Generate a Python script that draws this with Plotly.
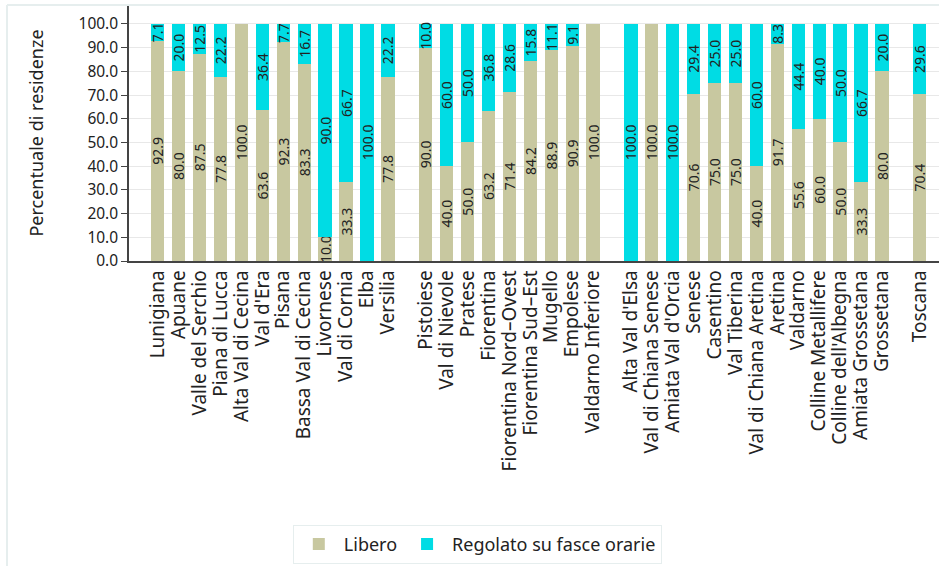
import plotly.graph_objects as go

groups = [
    ["Lunigiana", "Apuane", "Valle del Serchio", "Piana di Lucca", "Alta Val di Cecina",
     "Val d'Era", "Pisana", "Bassa Val di Cecina", "Livornese", "Val di Cornia", "Elba", "Versilia"],
    ["Pistoiese", "Val di Nievole", "Pratese", "Fiorentina", "Fiorentina Nord–Ovest",
     "Fiorentina Sud–Est", "Mugello", "Empolese", "Valdarno Inferiore"],
    ["Alta Val d'Elsa", "Val di Chiana Senese", "Amiata Val d'Orcia", "Senese", "Casentino",
     "Val Tiberina", "Val di Chiana Aretina", "Aretina", "Valdarno", "Colline Metallifere",
     "Colline dell'Albegna", "Amiata Grossetana", "Grossetana"],
    ["Toscana"],
]

libero = [92.9, 80.0, 87.5, 77.8, 100.0, 63.6, 92.3, 83.3, 10.0, 33.3, 0.0, 77.8,
          90.0, 40.0, 50.0, 63.2, 71.4, 84.2, 88.9, 90.9, 100.0,
          0.0, 100.0, 0.0, 70.6, 75.0, 75.0, 40.0, 91.7, 55.6, 60.0, 50.0, 33.3, 80.0,
          70.4]
regolato = [7.1, 20.0, 12.5, 22.2, 0.0, 36.4, 7.7, 16.7, 90.0, 66.7, 100.0, 22.2,
            10.0, 60.0, 50.0, 36.8, 28.6, 15.8, 11.1, 9.1, 0.0,
            100.0, 0.0, 100.0, 29.4, 25.0, 25.0, 60.0, 8.3, 44.4, 40.0, 50.0, 66.7, 20.0,
            29.6]

GAP = 0.8
categories, xpos = [], []
i = 0
for g, names in enumerate(groups):
    for n in names:
        categories.append(n)
        xpos.append(i + g * GAP)
        i += 1

FONT = "Noto Sans"
C_LIB = "#C8C8A0"
C_REG = "#00DCE4"

def labels(vals):
    return [f"{v:.1f}" if v > 0 else "" for v in vals]

fig = go.Figure()
for name, vals, col in [("Libero", libero, C_LIB), ("Regolato su fasce orarie", regolato, C_REG)]:
    fig.add_trace(go.Bar(
        x=xpos, y=vals, name=name, marker=dict(color=col, line=dict(width=0)),
        width=0.64, text=labels(vals), textposition="inside", textangle=-90,
        insidetextanchor="middle", textfont=dict(family=FONT, size=14, color="#222"),
        hoverinfo="skip",
    ))

fig.update_layout(
    barmode="stack",
    width=939, height=566,
    margin=dict(l=129, r=0, t=5, b=305),
    paper_bgcolor="white", plot_bgcolor="white",
    font=dict(family=FONT, size=16, color="#222"),
    uniformtext=dict(minsize=14, mode="show"),
    showlegend=True,
    legend=dict(orientation="h", x=0.43, xanchor="center", y=-1.03, yanchor="top",
                bordercolor="#E6EEEE", borderwidth=1, font=dict(size=18),
                itemwidth=40, traceorder="normal"),
    xaxis=dict(
        range=[-1.37, 37.32], tickmode="array", tickvals=xpos, ticktext=categories,
        tickangle=-90, showline=True, linecolor="#444", linewidth=1.5, ticks="",
        showgrid=False, zeroline=False, tickfont=dict(size=19),
    ),
    yaxis=dict(
        range=[0, 108], dtick=10, tick0=0, tickformat=".1f", showline=True,
        linecolor="#444", linewidth=1.5, ticks="outside", ticklen=6, tickcolor="#444",
        gridcolor="#E8E8E8", zeroline=False, tickfont=dict(size=15.5),
        title=dict(text="Percentuale di residenze", font=dict(size=18), standoff=30),
    ),
    shapes=[
        dict(type="line", xref="paper", yref="paper", x0=-0.1506, x1=-0.1506, y0=1.0, y1=-1.25,
             line=dict(color="#E6EEEE", width=2)),
        dict(type="line", xref="paper", yref="paper", x0=-0.1506, x1=1.01, y0=1.0, y1=1.0,
             line=dict(color="#E6EEEE", width=2)),
    ],
)

fig.write_html("out.html", config={"displayModeBar": False},
               post_script="document.body.style.margin='0';document.body.style.overflow='hidden';")
